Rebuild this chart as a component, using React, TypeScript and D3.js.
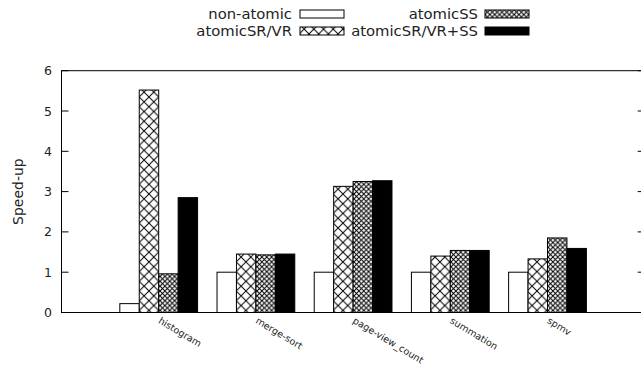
import React from "react";
import * as d3 from "d3";

const categories = ["histogram", "merge-sort", "page-view_count", "summation", "spmv"];
const seriesNames = ["non-atomic", "atomicSR/VR", "atomicSS", "atomicSR/VR+SS"];
const nonAtomic = [0.22, 1.0, 1.0, 1.0, 1.0];
const atomicSRVR = [5.52, 1.45, 3.13, 1.4, 1.33];
const atomicSS = [0.96, 1.43, 3.25, 1.54, 1.85];
const atomicSRVRSS = [2.85, 1.45, 3.27, 1.54, 1.59];
const yTicks = [0, 1, 2, 3, 4, 5, 6];

const seriesValues = [nonAtomic, atomicSRVR, atomicSS, atomicSRVRSS];
const fills = ["#ffffff", "url(#pBig)", "url(#pSmall)", "#000000"];

const W = 641;
const H = 366;
const left = 61.5;
const right = 644.7;
const top = 70.7;
const bottom = 312.5;

export default function App() {
  const x = d3.scaleLinear().domain([-1, 5]).range([left, right]);
  const y = d3.scaleLinear().domain([0, 6]).range([bottom, top]);
  const bw = x(0.2) - x(0);
  const font = "DejaVu Sans, sans-serif";

  const legendItems = [
    { name: seriesNames[0], fill: fills[0], tx: 292, bx: 300, cy: 14 },
    { name: seriesNames[2], fill: fills[2], tx: 478, bx: 485, cy: 14 },
    { name: seriesNames[1], fill: fills[1], tx: 292, bx: 300, cy: 31 },
    { name: seriesNames[3], fill: fills[3], tx: 478, bx: 485, cy: 31 },
  ];

  return (
    <svg
      width={W}
      height={H}
      style={{ position: "absolute", left: 0, top: 0, background: "#fff" }}
      fontFamily={font}
    >
      <defs>
        <pattern id="pBig" patternUnits="userSpaceOnUse" width={9.7} height={9.7} x={x(0) - 1.5 * (x(0.2) - x(0))} y={0}>
          <rect width={9.7} height={9.7} fill="#fff" />
          <path d="M0,0 L9.7,9.7 M9.7,0 L0,9.7" stroke="#000" strokeWidth={1} />
        </pattern>
        <pattern id="pSmall" patternUnits="userSpaceOnUse" width={4.85} height={4.85}>
          <rect width={4.85} height={4.85} fill="#fff" />
          <path d="M0,0 L4.85,4.85 M4.85,0 L0,4.85" stroke="#000" strokeWidth={1} />
        </pattern>
      </defs>

      {/* bars */}
      {seriesValues.map((vals, j) =>
        vals.map((v, i) => {
          const x0 = x(i) + (j - 2) * bw;
          return (
            <rect
              key={`${j}-${i}`}
              x={x0}
              y={y(v)}
              width={bw}
              height={y(0) - y(v)}
              fill={fills[j]}
              stroke="#000"
              strokeWidth={1}
            />
          );
        })
      )}

      {/* frame */}
      <rect
        x={left}
        y={top}
        width={right - left}
        height={bottom - top}
        fill="none"
        stroke="#000"
        strokeWidth={1}
      />

      {/* y ticks */}
      {yTicks.map((t) => (
        <g key={t}>
          <line x1={left} x2={left + 7} y1={y(t)} y2={y(t)} stroke="#000" />
          <line x1={right} x2={right - 7} y1={y(t)} y2={y(t)} stroke="#000" />
          <text
            x={52}
            y={y(t)}
            dy="0.36em"
            textAnchor="end"
            fontSize={12.5}
            fill="#222"
          >
            {t}
          </text>
        </g>
      ))}

      {/* y label */}
      <text
        transform={`translate(22.5,${(top + bottom) / 2}) rotate(-90)`}
        textAnchor="middle"
        fontSize={14}
        fill="#222"
      >
        Speed-up
      </text>

      {/* x labels */}
      {categories.map((c, i) => (
        <text
          key={c}
          transform={`translate(${x(i) - 1},${bottom + 10}) rotate(31)`}
          textAnchor="start"
          fontSize={9.5}
          fill="#222"
        >
          {c}
        </text>
      ))}

      {/* legend */}
      {legendItems.map((it) => (
        <g key={it.name}>
          <text
            x={it.tx}
            y={it.cy}
            dy="0.36em"
            textAnchor="end"
            fontSize={14.8}
            fill="#222"
          >
            {it.name}
          </text>
          <rect
            x={it.bx}
            y={it.cy - 4}
            width={44}
            height={8}
            fill={it.fill}
            stroke="#000"
            strokeWidth={1}
          />
        </g>
      ))}
    </svg>
  );
}
